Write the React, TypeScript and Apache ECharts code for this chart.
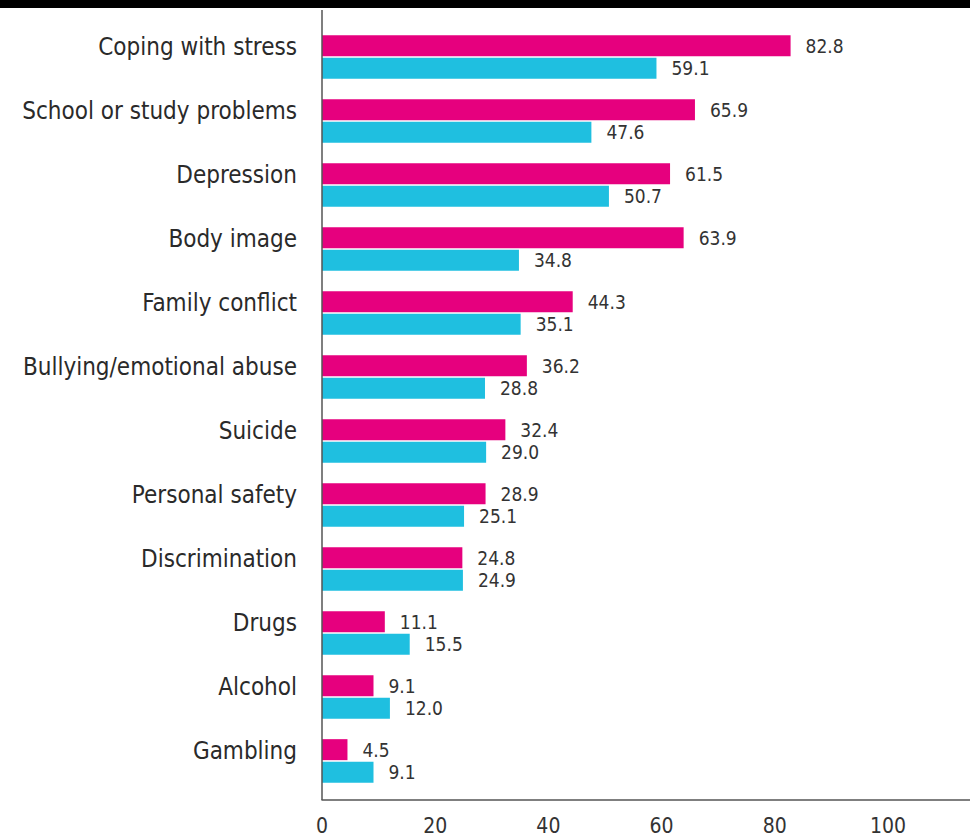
import React, { useEffect, useRef } from "react";
import * as echarts from "echarts";

const categories = [
  "Coping with stress",
  "School or study problems",
  "Depression",
  "Body image",
  "Family conflict",
  "Bullying/emotional abuse",
  "Suicide",
  "Personal safety",
  "Discrimination",
  "Drugs",
  "Alcohol",
  "Gambling",
];
const pinkValues = [82.8, 65.9, 61.5, 63.9, 44.3, 36.2, 32.4, 28.9, 24.8, 11.1, 9.1, 4.5];
const blueValues = [59.1, 47.6, 50.7, 34.8, 35.1, 28.8, 29.0, 25.1, 24.9, 15.5, 12.0, 9.1];

const FONT = '"Liberation Sans Narrow", "DejaVu Sans Condensed", Roboto, sans-serif';

export default function App() {
  const ref = useRef<HTMLDivElement>(null);
  useEffect(() => {
    if (!ref.current) return;
    const chart = echarts.init(ref.current, null, { renderer: "svg" });
    const labelStyle = {
      show: true,
      position: "right" as const,
      distance: 15,
      fontSize: 19,
      color: "#333",
      fontFamily: FONT,
      formatter: (p: any) => Number(p.value).toFixed(1),
    };
    chart.setOption({
      animation: false,
      backgroundColor: "#fff",
      grid: { left: 322, right: 0, top: 25, bottom: 44, containLabel: false },
      xAxis: {
        type: "value",
        min: 0,
        max: 114.5,
        interval: 20,
        offset: 7,
        axisLine: { show: true, lineStyle: { color: "#555", width: 1.5 } },
        axisTick: { show: false },
        splitLine: { show: false },
        axisLabel: {
          margin: 15,
          fontSize: 21,
          color: "#333",
          fontFamily: FONT,
          showMaxLabel: false,
          formatter: (v: number) => (v <= 100 ? String(v) : ""),
        },
      },
      yAxis: {
        type: "category",
        data: categories,
        inverse: true,
        axisLine: { show: false },
        axisTick: { show: false },
        axisLabel: {
          margin: 25,
          fontSize: 24,
          lineHeight: 20,
          verticalAlign: "bottom",
          color: "#2a2a2a",
          fontFamily: FONT,
        },
      },
      graphic: [
        { type: "rect", left: 0, top: 0, shape: { width: 970, height: 8 }, style: { fill: "#000" }, z: 100 },
        { type: "line", shape: { x1: 322, y1: 10, x2: 322, y2: 800 }, style: { stroke: "#555", lineWidth: 1.5 }, z: 50 },
      ],
      series: [
        {
          type: "bar",
          data: pinkValues,
          barWidth: 21,
          barGap: "8%",
          itemStyle: { color: "#E6007E" },
          label: labelStyle,
        },
        {
          type: "bar",
          data: blueValues,
          barWidth: 21,
          barGap: "8%",
          itemStyle: { color: "#1FBFE0" },
          label: labelStyle,
        },
      ],
    });
    return () => chart.dispose();
  }, []);
  return (
    <div
      ref={ref}
      style={{ position: "fixed", left: 0, top: 0, width: 970, height: 837 }}
    />
  );
}
